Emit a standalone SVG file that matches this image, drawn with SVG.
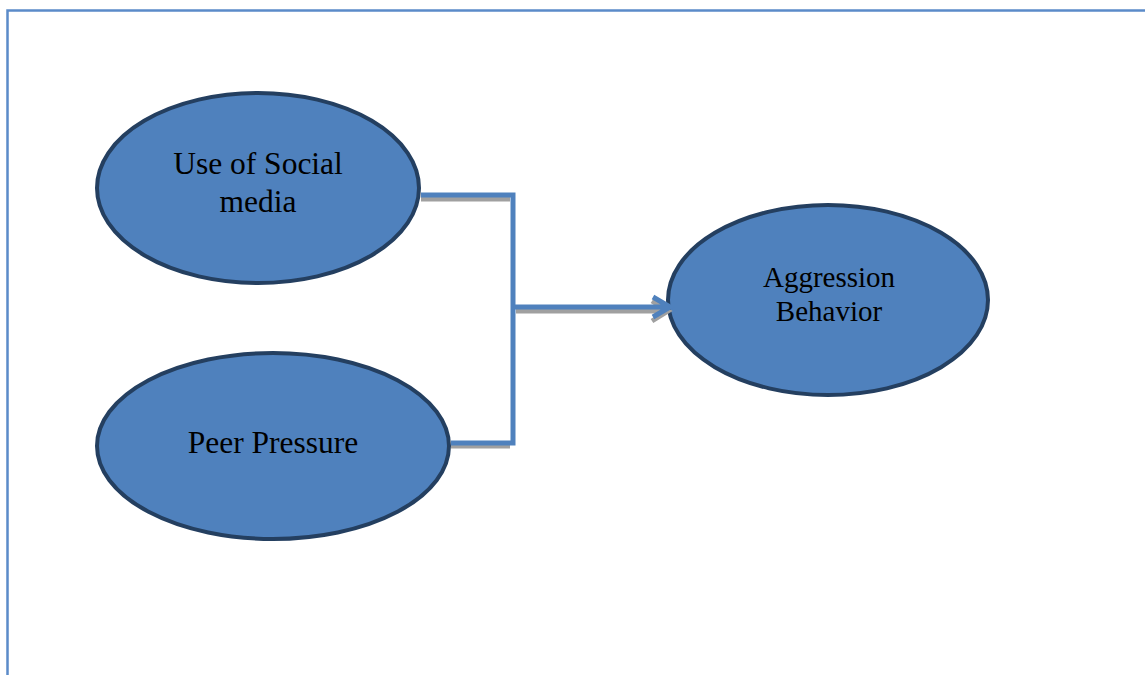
<svg xmlns="http://www.w3.org/2000/svg" width="1145" height="675" viewBox="0 0 1145 675">
<defs>
<style>
.node{fill:#4F81BD;stroke:#243F60;stroke-width:4}
.lbl{font-family:"Liberation Serif","Times New Roman",serif;font-size:31.5px;fill:#000;text-anchor:middle}
.sm{font-size:29px}
.ln{fill:none;stroke:#4F81BD;stroke-width:5}
.sh{fill:none;stroke:#A0A0A0;stroke-width:5}
</style>
</defs>
<rect width="1145" height="675" fill="#fff"/>
<path d="M7.5 675 V10.5 H1145" fill="none" stroke="#5B8BC9" stroke-width="2.5"/>
<g id="n1">
<ellipse class="node" cx="258" cy="188" rx="161" ry="95"/>
<text class="lbl" x="258" y="174">Use of Social</text>
<text class="lbl" x="258" y="212">media</text>
</g>
<g id="n2">
<ellipse class="node" cx="273" cy="446" rx="176" ry="93"/>
<text class="lbl" x="273" y="453">Peer Pressure</text>
</g>
<g id="n3">
<ellipse class="node" cx="828" cy="300" rx="160" ry="95"/>
<text class="lbl sm" x="829" y="287">Aggression</text>
<text class="lbl sm" x="829" y="321">Behavior</text>
</g>
<g id="connectors">
<path class="sh" d="M421 199 H510"/>
<path class="sh" d="M451 446 H510"/>
<path class="sh" d="M516 311 H666 M652 301 L668 311 L652 321"/>
<path class="ln" d="M421 195 H513 V443 H451"/>
<path class="ln" d="M513 307 H668 M653 297 L670 307 L653 317"/>
</g>
</svg>
